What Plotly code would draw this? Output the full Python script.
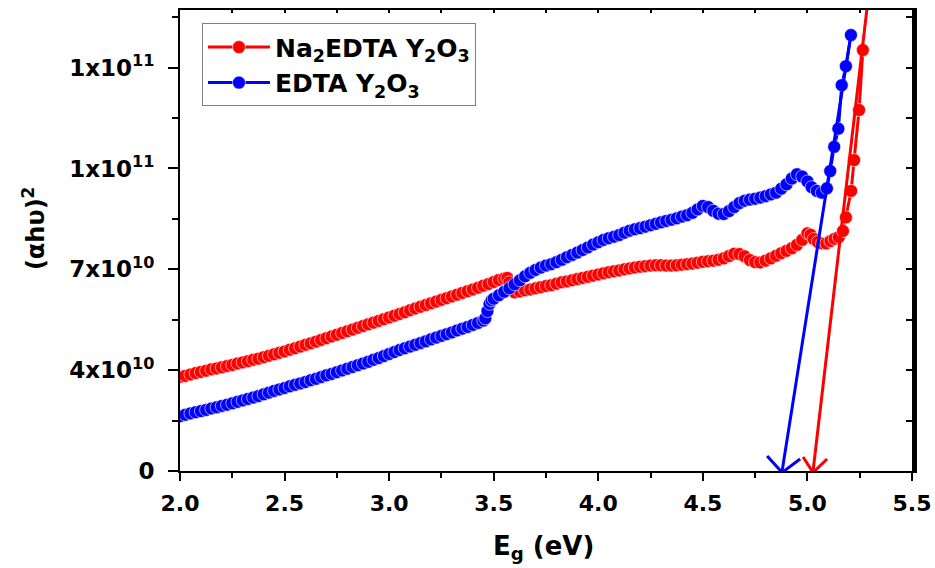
import plotly.graph_objects as go

# ---------------- data (y in units of 1e10) ----------------
red_E = [2.000, 2.025, 2.050, 2.075, 2.100, 2.125, 2.150, 2.175, 2.200, 2.225,
         2.250, 2.275, 2.300, 2.325, 2.350, 2.375, 2.400, 2.425, 2.450, 2.475,
         2.500, 2.525, 2.550, 2.575, 2.600, 2.625, 2.650, 2.675, 2.700, 2.725,
         2.750, 2.775, 2.800, 2.825, 2.850, 2.875, 2.900, 2.925, 2.950, 2.975,
         3.000, 3.025, 3.050, 3.075, 3.100, 3.125, 3.150, 3.175, 3.200, 3.225,
         3.250, 3.275, 3.300, 3.325, 3.350, 3.375, 3.400, 3.425, 3.450, 3.475,
         3.500, 3.525, 3.550, 3.565, 3.575, 3.585, 3.600, 3.625, 3.650, 3.675,
         3.700, 3.725, 3.750, 3.775, 3.800, 3.825, 3.850, 3.875, 3.900, 3.925,
         3.950, 3.975, 4.000, 4.025, 4.050, 4.075, 4.100, 4.125, 4.150, 4.175,
         4.200, 4.225, 4.250, 4.275, 4.300, 4.325, 4.350, 4.375, 4.400, 4.425,
         4.450, 4.475, 4.500, 4.525, 4.550, 4.575, 4.600, 4.625, 4.650, 4.675,
         4.700, 4.725, 4.750, 4.775, 4.800, 4.825, 4.850, 4.875, 4.900, 4.925,
         4.950, 4.975, 5.000, 5.015, 5.030, 5.050, 5.070, 5.090, 5.110, 5.130,
         5.150, 5.170, 5.184, 5.209, 5.223, 5.247, 5.265]
red_v = [3.27, 3.30, 3.35, 3.40, 3.44, 3.48, 3.53, 3.56, 3.60, 3.64,
         3.68, 3.73, 3.77, 3.81, 3.86, 3.90, 3.95, 4.00, 4.05, 4.10,
         4.15, 4.21, 4.26, 4.32, 4.38, 4.43, 4.49, 4.55, 4.61, 4.67,
         4.73, 4.79, 4.85, 4.91, 4.97, 5.03, 5.09, 5.15, 5.21, 5.27,
         5.33, 5.39, 5.45, 5.51, 5.58, 5.64, 5.70, 5.76, 5.82, 5.88,
         5.94, 6.00, 6.06, 6.12, 6.18, 6.24, 6.30, 6.36, 6.43, 6.49,
         6.56, 6.63, 6.68, 6.70, 6.55, 6.35, 6.20, 6.23, 6.27, 6.30,
         6.34, 6.38, 6.42, 6.45, 6.50, 6.55, 6.58, 6.62, 6.66, 6.70,
         6.74, 6.78, 6.82, 6.86, 6.90, 6.93, 6.96, 7.00, 7.03, 7.06,
         7.09, 7.11, 7.13, 7.14, 7.14, 7.13, 7.13, 7.14, 7.16, 7.18,
         7.20, 7.23, 7.26, 7.28, 7.30, 7.33, 7.38, 7.46, 7.54, 7.53,
         7.45, 7.32, 7.25, 7.24, 7.30, 7.38, 7.47, 7.56, 7.64, 7.73,
         7.85, 8.02, 8.25, 8.20, 8.05, 7.95, 7.90, 7.90, 7.98, 8.06,
         8.12, 8.33, 8.80, 9.72, 10.79, 12.53, 14.61]

blue_E = [2.000, 2.025, 2.050, 2.075, 2.100, 2.125, 2.150, 2.175, 2.200, 2.225,
          2.250, 2.275, 2.300, 2.325, 2.350, 2.375, 2.400, 2.425, 2.450, 2.475,
          2.500, 2.525, 2.550, 2.575, 2.600, 2.625, 2.650, 2.675, 2.700, 2.725,
          2.750, 2.775, 2.800, 2.825, 2.850, 2.875, 2.900, 2.925, 2.950, 2.975,
          3.000, 3.025, 3.050, 3.075, 3.100, 3.125, 3.150, 3.175, 3.200, 3.225,
          3.250, 3.275, 3.300, 3.325, 3.350, 3.375, 3.400, 3.425, 3.450, 3.460,
          3.470, 3.480, 3.490, 3.500, 3.525, 3.550, 3.575, 3.600, 3.625, 3.650,
          3.675, 3.700, 3.725, 3.750, 3.775, 3.800, 3.825, 3.850, 3.875, 3.900,
          3.925, 3.950, 3.975, 4.000, 4.025, 4.050, 4.075, 4.100, 4.125, 4.150,
          4.175, 4.200, 4.225, 4.250, 4.275, 4.300, 4.325, 4.350, 4.375, 4.400,
          4.425, 4.450, 4.475, 4.500, 4.525, 4.550, 4.575, 4.600, 4.625, 4.650,
          4.675, 4.700, 4.725, 4.750, 4.775, 4.800, 4.825, 4.850, 4.875, 4.900,
          4.925, 4.950, 4.975, 5.000, 5.020, 5.045, 5.069, 5.093, 5.109, 5.128,
          5.148, 5.164, 5.184, 5.208]
blue_v = [1.90, 1.95, 2.00, 2.04, 2.08, 2.12, 2.17, 2.21, 2.26, 2.30,
          2.35, 2.40, 2.45, 2.50, 2.55, 2.60, 2.66, 2.72, 2.78, 2.83,
          2.88, 2.94, 2.99, 3.04, 3.09, 3.15, 3.20, 3.26, 3.32, 3.37,
          3.43, 3.49, 3.55, 3.61, 3.67, 3.73, 3.79, 3.86, 3.92, 3.99,
          4.06, 4.13, 4.20, 4.26, 4.32, 4.38, 4.44, 4.50, 4.57, 4.63,
          4.69, 4.75, 4.81, 4.88, 4.94, 5.00, 5.07, 5.14, 5.22, 5.30,
          5.55, 5.80, 5.92, 5.98, 6.10, 6.22, 6.34, 6.48, 6.62, 6.76,
          6.88, 6.98, 7.06, 7.13, 7.18, 7.25, 7.33, 7.42, 7.50, 7.58,
          7.67, 7.76, 7.86, 7.94, 8.02, 8.08, 8.13, 8.19, 8.27, 8.34,
          8.39, 8.43, 8.48, 8.53, 8.58, 8.63, 8.68, 8.72, 8.77, 8.83,
          8.88, 8.96, 9.08, 9.20, 9.16, 9.03, 8.93, 8.92, 9.02, 9.16,
          9.30, 9.38, 9.42, 9.45, 9.49, 9.54, 9.60, 9.66, 9.80, 9.95,
          10.15, 10.30, 10.22, 10.05, 9.85, 9.72, 9.66, 9.81, 10.41, 11.25,
          11.88, 13.39, 14.05, 15.13]

# Tauc extrapolation lines (E, y in 1e10) and band-gap intercepts
red_fit_E = [5.027, 5.300]
red_fit_v = [0.0, 17.0]
blue_fit_E = [4.879, 5.208]
blue_fit_v = [0.0, 15.13]

x_tickvals = [2.0, 2.5, 3.0, 3.5, 4.0, 4.5, 5.0, 5.5]
x_ticktext = ["2.0", "2.5", "3.0", "3.5", "4.0", "4.5", "5.0", "5.5"]
x_minor = [2.25, 2.75, 3.25, 3.75, 4.25, 4.75, 5.25]
y_tickvals = [0, 3.5, 7.0, 10.5, 14.0]
y_ticktext = ["0", "4x10<sup>10</sup>", "7x10<sup>10</sup>",
              "1x10<sup>11</sup>", "1x10<sup>11</sup>"]
y_minor = [1.75, 5.25, 8.75, 12.25, 15.75]
SCALE = 1e10

RED = "#ff0000"
BLUE = "#0000ff"
FONT = "DejaVu Sans, Liberation Sans, Arial, sans-serif"

XR = [2.0, 5.5]
YR = [0, 16.0 * SCALE]
W, H = 935, 568
ML, MR, MT, MB = 180, 23, 10, 97
# data units per pixel (for sizing the arrow-head strokes)
DXP = (XR[1] - XR[0]) / (W - ML - MR)
DYP = (YR[1] - YR[0]) / (H - MT - MB)

fig = go.Figure()

def data_trace(E, v, color, name):
    return go.Scatter(
        x=E, y=[a * SCALE for a in v], mode="lines+markers", name=name,
        line=dict(color=color, width=3),
        marker=dict(symbol="circle", size=13, color=color,
                    line=dict(color="white", width=0.6)),
    )

fig.add_trace(data_trace(red_E, red_v, RED, "Na<sub>2</sub>EDTA Y<sub>2</sub>O<sub>3</sub>"))
fig.add_trace(data_trace(blue_E, blue_v, BLUE, "EDTA Y<sub>2</sub>O<sub>3</sub>"))

fig.add_trace(go.Scatter(x=red_fit_E, y=[a * SCALE for a in red_fit_v], mode="lines",
                         line=dict(color=RED, width=3), showlegend=False, hoverinfo="skip"))
fig.add_trace(go.Scatter(x=blue_fit_E, y=[a * SCALE for a in blue_fit_v], mode="lines",
                         line=dict(color=BLUE, width=3), showlegend=False, hoverinfo="skip"))

# open V arrow heads at the band-gap intercepts (arm lengths in pixels)
for E0, col, (l, r) in [(red_fit_E[0], RED, ((-10, 14), (14, 12))),
                        (blue_fit_E[0], BLUE, ((-15, 15), (18, 12)))]:
    fig.add_trace(go.Scatter(
        x=[E0 + l[0] * DXP, E0, E0 + r[0] * DXP],
        y=[l[1] * DYP, -1.5 * DYP, r[1] * DYP],
        mode="lines", line=dict(color=col, width=3), showlegend=False,
        hoverinfo="skip", cliponaxis=False))

# empty trace that activates the mirrored top/right axes
fig.add_trace(go.Scatter(x=[None], y=[None], xaxis="x2", yaxis="y2",
                         showlegend=False, hoverinfo="skip"))

TICKFONT_X = dict(size=22, family=FONT, weight="bold", color="black")
TICKFONT_Y = dict(size=23, family=FONT, weight="bold", color="black")

fig.update_layout(
    width=W, height=H,
    margin=dict(l=ML, r=MR, t=MT, b=MB, autoexpand=False),
    paper_bgcolor="white", plot_bgcolor="white",
    font=dict(family=FONT, size=21, color="black", weight="bold"),
    showlegend=True,
    legend=dict(x=0.030, y=0.971, xanchor="left", yanchor="top",
                bordercolor="#808080", borderwidth=1, bgcolor="white",
                font=dict(size=25, family=FONT, weight="bold", color="black"),
                itemwidth=62, tracegroupgap=0),
    xaxis=dict(range=XR, tickvals=x_tickvals, ticktext=x_ticktext,
               ticks="outside", ticklen=8, tickwidth=2, tickcolor="black",
               minor=dict(tickvals=x_minor, ticks="outside", ticklen=5,
                          tickwidth=2, tickcolor="black"),
               showline=True, linewidth=2, linecolor="black", mirror=False,
               showgrid=False, zeroline=False, ticklabelstandoff=4,
               ticklabeloverflow="allow", automargin=False,
               tickfont=TICKFONT_X),
    yaxis=dict(range=YR, tickvals=[a * SCALE for a in y_tickvals], ticktext=y_ticktext,
               ticks="outside", ticklen=10, tickwidth=2, tickcolor="black",
               minor=dict(tickvals=[a * SCALE for a in y_minor],
                          ticks="outside", ticklen=6, tickwidth=2, tickcolor="black"),
               showline=True, linewidth=2, linecolor="black", mirror=False,
               showgrid=False, zeroline=False, ticklabelstandoff=9,
               ticklabeloverflow="allow", automargin=False,
               tickfont=TICKFONT_Y),
    xaxis2=dict(range=XR, overlaying="x", side="top", anchor="y2",
                tickvals=x_tickvals + x_minor,
                showticklabels=False, ticks="inside", ticklen=3, tickwidth=2,
                tickcolor="black", showline=True, linewidth=2, linecolor="black",
                showgrid=False, zeroline=False, automargin=False),
    yaxis2=dict(range=YR, overlaying="y", side="right", anchor="x2",
                tickvals=[a * SCALE for a in y_tickvals + y_minor],
                showticklabels=False, ticks="inside", ticklen=6, tickwidth=2,
                tickcolor="black", showline=True, linewidth=5, linecolor="black",
                showgrid=False, zeroline=False, automargin=False),
)

# axis titles
fig.add_annotation(text="E<sub>g</sub> (eV)", xref="paper", yref="paper",
                   x=0.497, y=-0.125, xanchor="center", yanchor="top", showarrow=False,
                   font=dict(size=26, family=FONT, weight="bold", color="black"))
fig.add_annotation(text="(αhυ)<sup>2</sup>", xref="paper", yref="paper",
                   x=-0.20, y=0.526, xanchor="center", yanchor="middle", showarrow=False,
                   textangle=-90, font=dict(size=24, family=FONT, weight="bold", color="black"))

fig.write_html("out.html")
